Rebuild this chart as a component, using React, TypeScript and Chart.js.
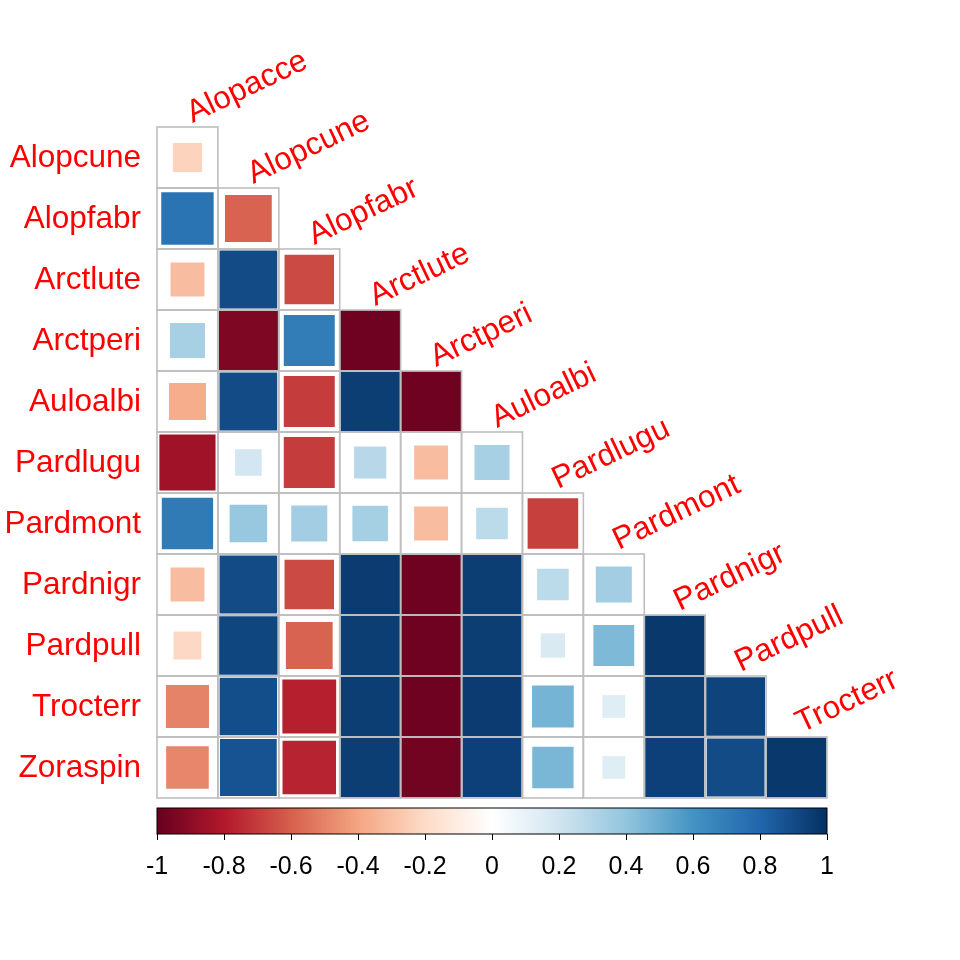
import React, { useEffect, useRef } from "react";
import { Chart, registerables } from "chart.js";

Chart.register(...registerables);

const rowLabels = ["Alopcune", "Alopfabr", "Arctlute", "Arctperi", "Auloalbi", "Pardlugu", "Pardmont", "Pardnigr", "Pardpull", "Trocterr", "Zoraspin"];
const colLabels = ["Alopacce", "Alopcune", "Alopfabr", "Arctlute", "Arctperi", "Auloalbi", "Pardlugu", "Pardmont", "Pardnigr", "Pardpull", "Trocterr"];

const corAlopcune = [-0.23];
const corAlopfabr = [0.74, -0.59];
const corArctlute = [-0.31, 0.9, -0.66];
const corArctperi = [0.33, -0.94, 0.7, -0.98];
const corAuloalbi = [-0.37, 0.9, -0.7, 0.95, -0.98];
const corPardlugu = [-0.85, 0.19, -0.7, 0.28, -0.31, 0.33];
const corPardmont = [0.71, 0.38, 0.35, 0.34, -0.31, 0.27, -0.69];
const corPardnigr = [-0.31, 0.9, -0.66, 0.96, -0.98, 0.95, 0.27, 0.35];
const corPardpull = [-0.21, 0.92, -0.59, 0.95, -0.98, 0.95, 0.16, 0.45, 0.97];
const corTrocterr = [-0.5, 0.89, -0.78, 0.95, -0.98, 0.96, 0.47, 0.14, 0.95, 0.93];
const corZoraspin = [-0.49, 0.87, -0.77, 0.95, -0.97, 0.94, 0.46, 0.14, 0.94, 0.9, 0.97];

const corRows = [corAlopcune, corAlopfabr, corArctlute, corArctperi, corAuloalbi, corPardlugu, corPardmont, corPardnigr, corPardpull, corTrocterr, corZoraspin];

const legendTicks = [-1, -0.8, -0.6, -0.4, -0.2, 0, 0.2, 0.4, 0.6, 0.8, 1];
const legendTickLabels = ["-1", "-0.8", "-0.6", "-0.4", "-0.2", "0", "0.2", "0.4", "0.6", "0.8", "1"];

const palette = ["#67001F", "#B2182B", "#D6604D", "#F4A582", "#FDDBC7", "#FFFFFF", "#D1E5F0", "#92C5DE", "#4393C3", "#2166AC", "#053061"];

function hexToRgb(h: string) {
  return [parseInt(h.slice(1, 3), 16), parseInt(h.slice(3, 5), 16), parseInt(h.slice(5, 7), 16)];
}

function colorFor(v: number) {
  const t = ((Math.max(-1, Math.min(1, v)) + 1) / 2) * (palette.length - 1);
  const i = Math.min(palette.length - 2, Math.floor(t));
  const f = t - i;
  const a = hexToRgb(palette[i]);
  const b = hexToRgb(palette[i + 1]);
  const c = a.map((x, k) => Math.round(x + (b[k] - x) * f));
  return `rgb(${c[0]},${c[1]},${c[2]})`;
}

const FONT = '"Liberation Sans", Arial, Helvetica, sans-serif';

const corrPlugin = {
  id: "corrDecor",
  afterDatasetsDraw(chart: any) {
    const ctx = chart.ctx;
    const xs = chart.scales.x;
    const ys = chart.scales.y;
    ctx.save();
    // grid outlines
    ctx.strokeStyle = "#BEBEBE";
    ctx.lineWidth = 1.6;
    corRows.forEach((row, i) => {
      row.forEach((_v, j) => {
        const x0 = xs.getPixelForValue(j);
        const x1 = xs.getPixelForValue(j + 1);
        const y0 = ys.getPixelForValue(i);
        const y1 = ys.getPixelForValue(i + 1);
        ctx.strokeRect(x0, y0, x1 - x0, y1 - y0);
      });
    });
    // row labels
    ctx.fillStyle = "#FF0000";
    ctx.font = `31.5px ${FONT}`;
    ctx.textAlign = "right";
    ctx.textBaseline = "alphabetic";
    rowLabels.forEach((lab, i) => {
      const yc = ys.getPixelForValue(i + 0.5);
      ctx.fillText(lab, xs.getPixelForValue(0) - 16, yc + 9);
    });
    // column labels
    ctx.textAlign = "left";
    colLabels.forEach((lab, j) => {
      const xc = xs.getPixelForValue(j + 0.5);
      const yt = ys.getPixelForValue(j);
      ctx.save();
      ctx.translate(xc + 5, yt - 4);
      ctx.rotate((-25.5 * Math.PI) / 180);
      ctx.fillText(lab, 0, 0);
      ctx.restore();
    });
    // colour legend
    const toX = (v: number) => xs.getPixelForValue(((v + 1) / 2) * 11);
    const top = ys.getPixelForValue(11) + 10;
    const h = 26;
    const xl = toX(-1);
    const xr = toX(1);
    const grad = ctx.createLinearGradient(xl, 0, xr, 0);
    palette.forEach((c, k) => grad.addColorStop(k / (palette.length - 1), c));
    ctx.fillStyle = grad;
    ctx.fillRect(xl, top, xr - xl, h);
    ctx.strokeStyle = "#000000";
    ctx.lineWidth = 1;
    ctx.strokeRect(xl, top, xr - xl, h);
    ctx.beginPath();
    legendTicks.forEach((v) => {
      const x = Math.round(toX(v)) + 0.5;
      ctx.moveTo(x, top + h);
      ctx.lineTo(x, top + h + 6);
    });
    ctx.stroke();
    ctx.fillStyle = "#000000";
    ctx.font = `25px ${FONT}`;
    ctx.textAlign = "center";
    ctx.textBaseline = "middle";
    legendTicks.forEach((v, k) => {
      ctx.fillText(legendTickLabels[k], toX(v), top + h + 33);
    });
    ctx.restore();
  },
};

export default function App() {
  const ref = useRef<HTMLCanvasElement | null>(null);
  useEffect(() => {
    if (!ref.current) return;
    const points: any[] = [];
    corRows.forEach((row, i) => {
      row.forEach((v, j) => {
        points.push({ x: j + 0.5, y: i + 0.5, r: v });
      });
    });
    const chart = new Chart(ref.current, {
      type: "scatter",
      data: {
        datasets: [
          {
            data: points,
            pointStyle: "rect",
            borderWidth: 0,
            pointBorderWidth: 0,
            pointBackgroundColor: (c: any) => colorFor(c.raw ? c.raw.r : 0),
            pointRadius: (c: any) => {
              const xs = c.chart.scales.x;
              if (!xs || !c.raw) return 0;
              const cell = xs.getPixelForValue(1) - xs.getPixelForValue(0);
              return (Math.sqrt(Math.abs(c.raw.r)) * cell) / Math.SQRT2;
            },
          } as any,
        ],
      },
      options: {
        responsive: false,
        animation: false,
        events: [],
        layout: { padding: { left: 157, right: 133, top: 127, bottom: 162 } },
        scales: {
          x: { type: "linear", min: 0, max: 11, display: false },
          y: { type: "linear", min: 0, max: 11, reverse: true, display: false },
        },
        plugins: { legend: { display: false }, tooltip: { enabled: false } },
      },
      plugins: [corrPlugin],
    });
    return () => chart.destroy();
  }, []);
  return (
    <div style={{ position: "fixed", left: 0, top: 0, width: 960, height: 960, background: "#fff" }}>
      <canvas ref={ref} width={960} height={960} />
    </div>
  );
}
